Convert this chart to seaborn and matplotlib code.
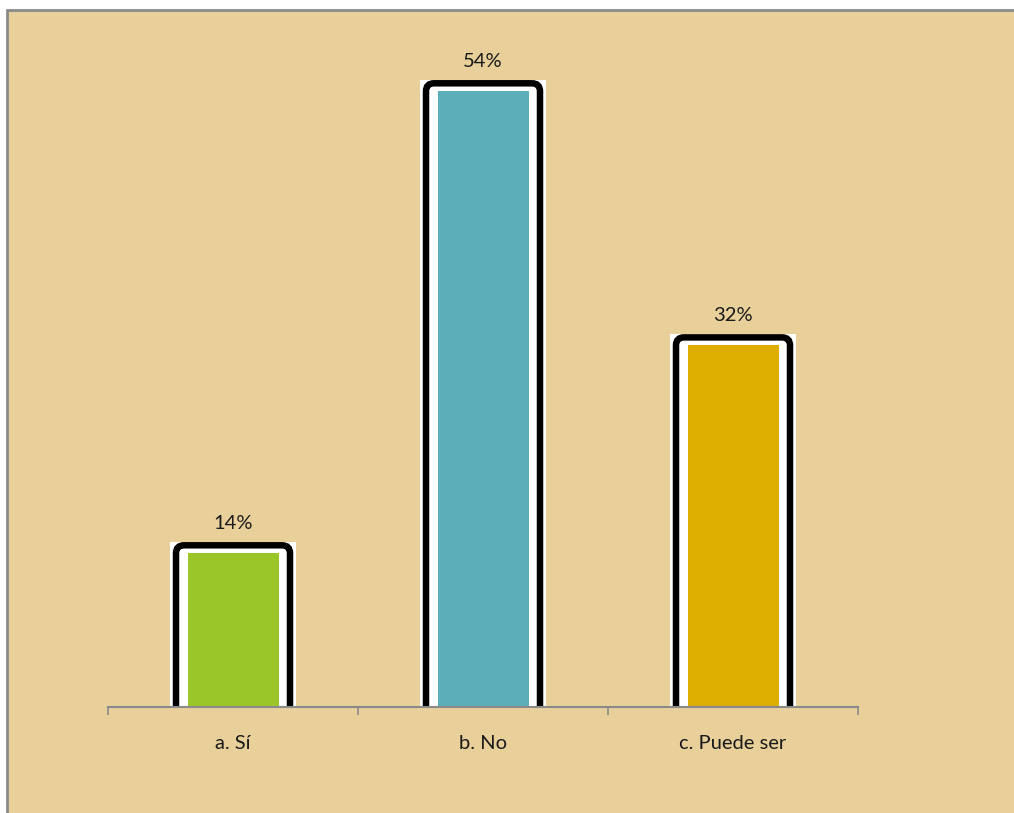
import matplotlib
matplotlib.use("Agg")
import matplotlib.pyplot as plt
from matplotlib.patches import FancyBboxPatch, Rectangle
import seaborn as sns
import pandas as pd

# ---- data ----
categories = ["a. Sí", "b. No", "c. Puede ser"]
values = [0.14, 0.54, 0.32]
labels = ["14%", "54%", "32%"]
colors = ["#9AC62A", "#5AAFB8", "#DDAD00"]

sns.set_theme(style="white")
plt.rcParams["font.family"] = ["Lato", "DejaVu Sans"]

W, H = 1014, 813
fig = plt.figure(figsize=(W / 100, H / 100), dpi=100)
fig.patch.set_facecolor("white")

# chart background (papyrus tone) with gray border on top/left
bg = Rectangle((7 / W, 0), 1 - 7 / W, 1 - 10 / H, transform=fig.transFigure,
               facecolor="#E9D09B", edgecolor="none", zorder=-10)
fig.patches.append(bg)
fig.add_artist(plt.Line2D([7 / W, 1], [1 - 10 / H, 1 - 10 / H], transform=fig.transFigure,
                          color="#8a8a8a", lw=2))
fig.add_artist(plt.Line2D([7 / W, 7 / W], [0, 1 - 10 / H], transform=fig.transFigure,
                          color="#8a8a8a", lw=2))

ax_left, ax_right = 108 / W, 858 / W
ax_bottom, ax_top = (H - 707) / H, (H - 14) / H
ax = fig.add_axes([ax_left, ax_bottom, ax_right - ax_left, ax_top - ax_bottom])
ax.set_facecolor("none")

df = pd.DataFrame({"cat": categories, "val": values})
sns.barplot(data=df, x="cat", y="val", hue="cat", palette=colors, width=0.364,
            saturation=1, legend=False, ax=ax, edgecolor="none", zorder=3)

ax.set_xlim(-0.5, 2.5)
ax.set_ylim(0, 0.6)
fig.canvas.draw()

# pixel -> data conversions
inv = ax.transData.inverted()
def dy(px):
    return inv.transform((0, px))[1] - inv.transform((0, 0))[1]
def dx(px):
    return inv.transform((px, 0))[0] - inv.transform((0, 0))[0]

aspect = dy(1) / dx(1)
for p, v, lab in zip(ax.patches, values, labels):
    cx = p.get_x() + p.get_width() / 2
    # outer white box
    ow = dx(126)
    ax.add_patch(Rectangle((cx - ow / 2, 0), ow, v + dy(3), facecolor="white",
                           edgecolor="none", zorder=1))
    # black rounded frame
    fw = dx(114)
    frame = FancyBboxPatch((cx - fw / 2, -dy(30)), fw, v + dy(30),
                           boxstyle=f"round,pad=0,rounding_size={dx(8)}",
                           mutation_aspect=aspect,
                           facecolor="white", edgecolor="black",
                           linewidth=6.5 * 72 / 100, zorder=2)
    ax.add_patch(frame)
    # colored fill stops short of the frame top
    p.set_height(v - dy(8))
    ax.text(cx, v + dy(22), lab, ha="center", va="center", fontsize=14.5,
            color="#1a1a1a", zorder=5)

# axis styling
for s in ["top", "right", "left"]:
    ax.spines[s].set_visible(False)
ax.spines["bottom"].set_color("#8a8a8a")
ax.spines["bottom"].set_linewidth(1.5)
ax.spines["bottom"].set_zorder(6)
ax.set_yticks([])
ax.set_xticks([-0.5, 0.5, 1.5, 2.5])
ax.set_xticklabels([])
ax.set_xticks([0, 1, 2], minor=True)
ax.set_xticklabels(categories, minor=True, fontsize=14.5, color="#1a1a1a")
ax.tick_params(axis="x", which="major", direction="out", length=6, width=1.2,
               color="#8a8a8a", bottom=True)
ax.tick_params(axis="x", which="minor", length=0, pad=20)
ax.set_xlabel("")
ax.set_ylabel("")

fig.savefig("out.png", dpi=100, facecolor=fig.get_facecolor())
